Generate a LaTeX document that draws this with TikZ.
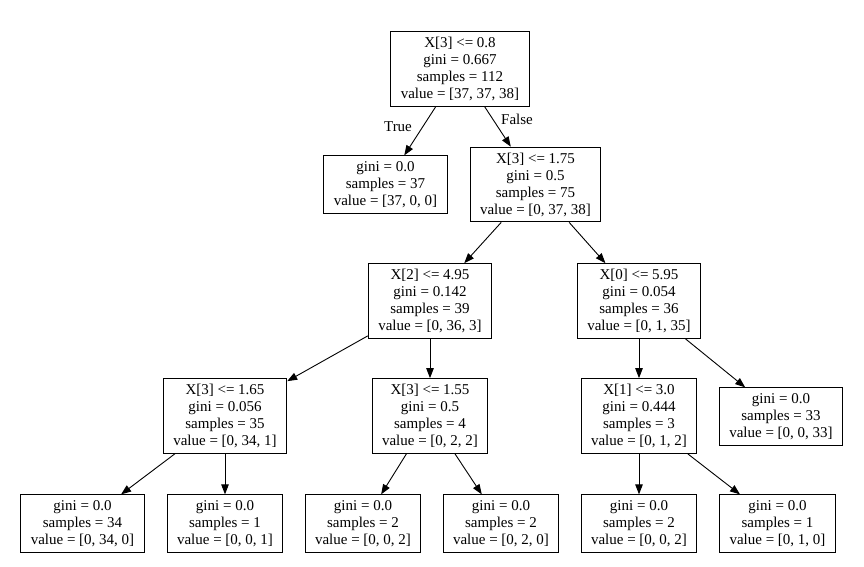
\documentclass[tikz,border=0pt]{standalone}
\usepackage{fontspec}
\setmainfont{Liberation Serif}
\usetikzlibrary{arrows.meta}

\tikzset{
  split/.style={draw, line width=1pt, rectangle, align=center, inner xsep=10pt, inner ysep=5.5pt,
    font=\fontsize{15}{17}\selectfont},
  edge/.style={line width=0.9pt, -{Triangle[length=10pt,width=7.5pt]}},
  edgelbl/.style={font=\fontsize{15}{17}\selectfont, inner sep=0pt}
}

\begin{document}
\begin{tikzpicture}[x=1pt,y=-1pt]
    \useasboundingbox (0,0) rectangle (864,566);

    %splits
    \node[split] (n0) at (460,69) {X[3] <= 0.8\\gini = 0.667\\samples = 112\\value = [37, 37, 38]};
    \node[split] (n2) at (535.5,184.5) {X[3] <= 1.75\\gini = 0.5\\samples = 75\\value = [0, 37, 38]};
    \node[split] (n3) at (430,301) {X[2] <= 4.95\\gini = 0.142\\samples = 39\\value = [0, 36, 3]};
    \node[split] (n10) at (639,301) {X[0] <= 5.95\\gini = 0.054\\samples = 36\\value = [0, 1, 35]};
    \node[split] (n4) at (225,416) {X[3] <= 1.65\\gini = 0.056\\samples = 35\\value = [0, 34, 1]};
    \node[split] (n7) at (430,416) {X[3] <= 1.55\\gini = 0.5\\samples = 4\\value = [0, 2, 2]};
    \node[split] (n11) at (639,416) {X[1] <= 3.0\\gini = 0.444\\samples = 3\\value = [0, 1, 2]};

    %leaves
    \node[split] (n1) at (385.5,184.5) {gini = 0.0\\samples = 37\\value = [37, 0, 0]};
    \node[split] (n14) at (781,416.5) {gini = 0.0\\samples = 33\\value = [0, 0, 33]};
    \node[split] (n5) at (82.5,523.5) {gini = 0.0\\samples = 34\\value = [0, 34, 0]};
    \node[split] (n6) at (225,523.5) {gini = 0.0\\samples = 1\\value = [0, 0, 1]};
    \node[split] (n8) at (363,523.5) {gini = 0.0\\samples = 2\\value = [0, 0, 2]};
    \node[split] (n9) at (501,523.5) {gini = 0.0\\samples = 2\\value = [0, 2, 0]};
    \node[split] (n12) at (639,523.5) {gini = 0.0\\samples = 2\\value = [0, 0, 2]};
    \node[split] (n13) at (777.5,523.5) {gini = 0.0\\samples = 1\\value = [0, 1, 0]};

    %edges
    \draw[edge] (n0) -- (n1);
    \draw[edge] (n0) -- (n2);
    \draw[edge] (n2) -- (n3);
    \draw[edge] (n2) -- (n10);
    \draw[edge] (n3) -- (n4);
    \draw[edge] (n3) -- (n7);
    \draw[edge] (n10) -- (n11);
    \draw[edge] (n10) -- (n14);
    \draw[edge] (n4) -- (n5);
    \draw[edge] (n4) -- (n6);
    \draw[edge] (n7) -- (n8);
    \draw[edge] (n7) -- (n9);
    \draw[edge] (n11) -- (n12);
    \draw[edge] (n11) -- (n13);

    %labels
    \node[edgelbl] (true) at (398,127) {True};
    \node[edgelbl] (false) at (517,119) {False};

\end{tikzpicture}
\end{document}
